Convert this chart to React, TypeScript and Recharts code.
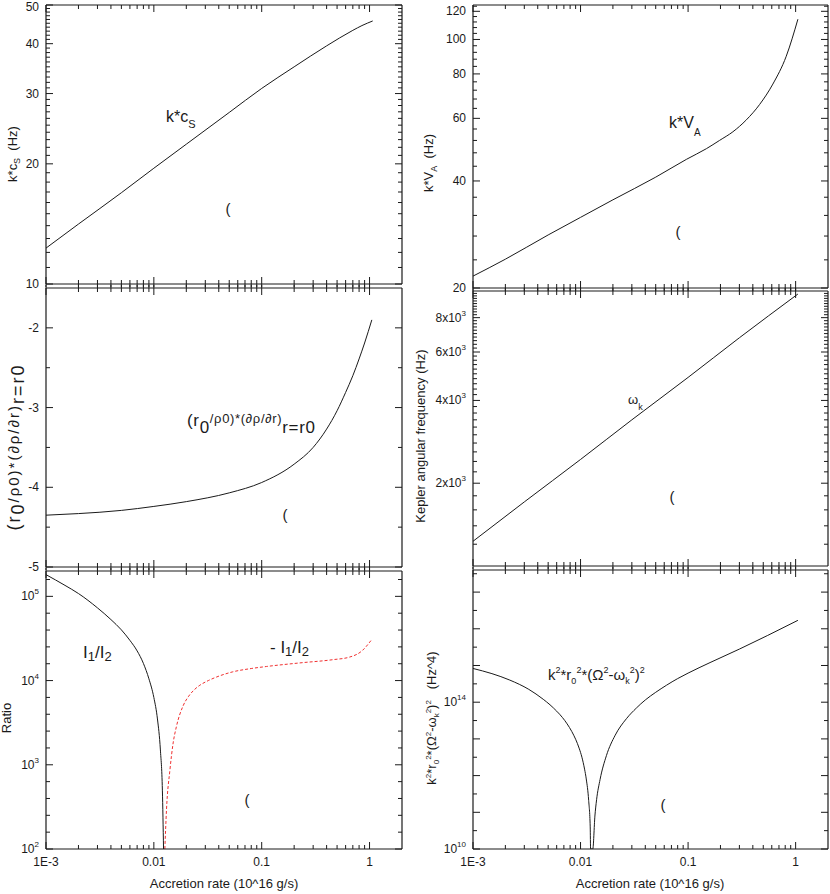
import React from 'react'
import { LineChart, Line, XAxis, YAxis, ReferenceLine } from 'recharts'

const FONT = "'Liberation Sans', Arial, Helvetica, sans-serif"
const INK = '#1a1a1a'

// accretion rate in 10^16 g/s on every x axis
const kcsX = [0.001, 0.002, 0.005, 0.01, 0.02, 0.05, 0.1, 0.2, 0.4, 0.7, 0.85, 1.07]
const kcsY = [12.3, 14.13, 16.93, 19.5, 22.4, 26.9, 30.9, 35.0, 39.5, 43.2, 44.4, 45.6]

const kvaX = [0.001, 0.002, 0.005, 0.01, 0.02, 0.05, 0.0964, 0.148, 0.196, 0.261, 0.348, 0.462, 0.614, 0.818, 1.05]
const kvaY = [21.6, 24.1, 28.2, 31.6, 35.4, 41.0, 46.0, 49.3, 52.0, 55.0, 59.4, 65.6, 74.9, 89.7, 114]

const drhoX = [0.001, 0.002, 0.005, 0.01, 0.02, 0.05, 0.1, 0.2, 0.3, 0.4, 0.5, 0.6, 0.7, 0.8, 0.9, 1.05]
const drhoY = [-4.35, -4.33, -4.29, -4.24, -4.18, -4.07, -3.94, -3.71, -3.5, -3.27, -3.04, -2.81, -2.6, -2.39, -2.19, -1.9]

const omkX = [0.001, 0.003, 0.01, 0.03, 0.1, 0.3, 1.05]
const omkY = [1230, 1710, 2440, 3400, 4850, 6760, 9750]

const i12X = [0.001, 0.0015, 0.002, 0.003, 0.004, 0.005, 0.006, 0.007, 0.008, 0.009, 0.01, 0.0108, 0.0115, 0.012, 0.0123]
const i12Y = [181000, 135000, 108000, 73000, 53000, 40000, 30000, 22500, 16000, 10500, 6300, 3500, 1500, 500, 100]

const mi12X = [0.01265, 0.0131, 0.0141, 0.0151, 0.0162, 0.01866, 0.021, 0.0235, 0.0267, 0.032, 0.038, 0.054, 0.08, 0.111, 0.225, 0.457, 0.653, 0.85, 1.03]
const mi12Y = [100, 293, 870, 1815, 2850, 5000, 6500, 7700, 8800, 10000, 11000, 12700, 13900, 14700, 16200, 17700, 19000, 22500, 29800]

const dispX = [0.001, 0.0015, 0.0022, 0.0033, 0.0045, 0.0052, 0.006, 0.0068, 0.0075, 0.0083, 0.009, 0.0097, 0.0103,
    0.0109, 0.0113, 0.0119, 0.0123, 0.0124,
    0.013, 0.0136, 0.0141, 0.0152, 0.0174, 0.021, 0.0267, 0.033, 0.04, 0.05, 0.063, 0.08, 0.1, 0.16, 0.3, 0.55, 1.05]
const dispY = [8.3e14, 6.0e14, 4.0e14, 2.24e14, 1.2e14, 8.5e13, 5.7e13, 3.8e13, 2.57e13, 1.58e13, 9.8e12, 5.6e12, 3.16e12,
    1.5e12, 8.1e11, 2.1e11, 4e10, 1e10,
    1e10, 7.9e10, 2.2e11, 7.9e11, 3.5e12, 1.26e13, 3.55e13, 6.9e13, 1.15e14, 1.86e14, 2.9e14, 4.4e14, 6.2e14, 1.2e15, 2.8e15, 6.6e15, 1.7e16]

const zip = (xs: number[], ys: number[]) => xs.map((x, i) => ({ x, y: ys[i] }))

// tick labels
type Lab = { v: number; t: string; sup?: string }

const xMajor: Lab[] = [
    { v: 0.001, t: '1E-3' },
    { v: 0.01, t: '0.01' },
    { v: 0.1, t: '0.1' },
    { v: 1, t: '1' },
]
const xMinor = [0.002, 0.003, 0.004, 0.005, 0.006, 0.007, 0.008, 0.009,
    0.02, 0.03, 0.04, 0.05, 0.06, 0.07, 0.08, 0.09,
    0.2, 0.3, 0.4, 0.5, 0.6, 0.7, 0.8, 0.9]

const kcsTicks: Lab[] = [10, 20, 30, 40, 50].map(v => ({ v, t: String(v) }))
const kvaTicks: Lab[] = [20, 40, 60, 80, 100, 120].map(v => ({ v, t: String(v) }))
const drhoTicks: Lab[] = [-5, -4, -3, -2].map(v => ({ v, t: String(v) }))
const omkTicks: Lab[] = [
    { v: 2000, t: '2x10', sup: '3' },
    { v: 4000, t: '4x10', sup: '3' },
    { v: 6000, t: '6x10', sup: '3' },
    { v: 8000, t: '8x10', sup: '3' },
]
const ratioTicks: Lab[] = [
    { v: 100, t: '10', sup: '2' },
    { v: 1000, t: '10', sup: '3' },
    { v: 10000, t: '10', sup: '4' },
    { v: 100000, t: '10', sup: '5' },
]
const dispTicks: Lab[] = [
    { v: 1e10, t: '10', sup: '10' },
    { v: 1e11, t: '' }, { v: 1e12, t: '' }, { v: 1e13, t: '' },
    { v: 1e14, t: '10', sup: '14' },
    { v: 1e15, t: '' }, { v: 1e16, t: '' }, { v: 1e17, t: '' },
]

// minor tick helpers
const steps = (from: number, to: number, step: number, skip: number[]) => {
    const out: number[] = []
    for (let v = from; v <= to + 1e-9; v += step) {
        const r = Math.round(v * 1000) / 1000
        if (!skip.some(s => Math.abs(s - r) < 1e-9)) out.push(r)
    }
    return out
}
const logSteps = (lo: number, hi: number, step: number) => {
    const out: number[] = []
    for (let e = lo; e <= hi + 1e-9; e += step) {
        if (Math.abs(e - Math.round(e)) > 1e-6) out.push(Math.pow(10, e))
    }
    return out
}

const kcsMinor = steps(11, 49, 1, [20, 30, 40])
const kvaMinor = steps(24, 124, 4, [40, 60, 80, 100, 120])
const drhoMinor = [-4.5, -3.5, -2.5]
const omkMinor = steps(1200, 9800, 200, [2000, 4000, 6000, 8000])
const ratioMinor = logSteps(2, 5.3, 0.2)
const dispMinor = logSteps(10, 17.6, 0.5)

// rich text with sub/superscripts
type Seg = { t: string; off?: number; size?: number }
function Rich({ x, y, size, segs, anchor = 'start', rotate = false, len }: {
    x: number, y: number, size: number, segs: Seg[], anchor?: 'start' | 'middle' | 'end', rotate?: boolean, len?: number
}) {
    let cur = 0
    return (
        <text x={x} y={y} fontSize={size} fontFamily={FONT} fill={INK} textAnchor={anchor}
            transform={rotate ? `rotate(-90 ${x} ${y})` : undefined} textLength={len}>
            {segs.map((s, i) => {
                const off = s.off ?? 0
                const dy = off - cur
                cur = off
                return <tspan key={i} dy={dy} fontSize={s.size ?? size}>{s.t}</tspan>
            })}
        </text>
    )
}

const Paren = ({ x, y }: { x: number, y: number }) => (
    <text x={x} y={y + 5} fontSize={15} fontFamily={FONT} fill={INK} textAnchor="middle">(</text>
)

type Series = { data: { x: number, y: number }[], color?: string, dash?: string }

interface PanelProps {
    left: number
    top: number
    width: number
    yAxisW: number
    mr: number
    plotH: number
    first?: boolean
    bottom?: boolean
    yScale: 'log' | 'linear'
    yDomain: [number, number]
    yMajor: Lab[]
    yMinor: number[]
    series: Series[]
    children?: React.ReactNode
}

const findLab = (labs: Lab[], v: number) => labs.find(l => Math.abs(l.v - v) <= Math.abs(v) * 1e-6)

function Panel(d: PanelProps) {
    const mt = 12
    const xAxisH = d.bottom ? 894 - (d.top + mt + d.plotH) : 12
    const height = mt + d.plotH + xAxisH
    const pL = d.yAxisW
    const pR = d.width - d.mr
    const pT = mt
    const pB = mt + d.plotH
    const xs = [...xMajor.map(l => l.v), ...xMinor]
    const ys = [...d.yMajor.map(l => l.v), ...d.yMinor]

    // ticks point inward on all four sides
    const xTick = (props: any) => {
        const x = props.x
        const lab = findLab(xMajor, props.payload.value)
        const len = lab ? 7 : 4
        return (
            <g>
                <line x1={x} x2={x} y1={pB + (d.bottom ? 0 : 3)} y2={pB - len} stroke={INK} />
                <line x1={x} x2={x} y1={pT - (d.first ? 0 : 3)} y2={pT + len} stroke={INK} />
                {d.bottom && lab ? (
                    <text x={x} y={pB + 17} textAnchor="middle" fontSize={12} fontFamily={FONT} fill={INK}>{lab.t}</text>
                ) : null}
            </g>
        )
    }
    const yTick = (props: any) => {
        const y = props.y
        const v = props.payload.value
        const lab = findLab(d.yMajor, v)
        const len = lab ? 7 : 4
        // the very top label of the page sits a touch lower so it is not cut
        const atPageTop = d.first && Math.abs(v - d.yDomain[1]) <= Math.abs(v) * 1e-6
        return (
            <g>
                <line x1={pL} x2={pL + len} y1={y} y2={y} stroke={INK} />
                <line x1={pR} x2={pR - len} y1={y} y2={y} stroke={INK} />
                {lab && lab.t ? (
                    <text x={pL - 7} y={y} dy={atPageTop ? 5.5 : 4} textAnchor="end" fontSize={12} fontFamily={FONT} fill={INK}>
                        {lab.t}
                        {lab.sup ? <tspan dy={-6} fontSize={8}>{lab.sup}</tspan> : null}
                    </text>
                ) : null}
            </g>
        )
    }

    return (
        <div style={{ position: 'absolute', left: d.left, top: d.top }}>
            <LineChart width={d.width} height={height} margin={{ top: mt, right: d.mr, bottom: 0, left: 0 }}>
                <XAxis
                    type="number"
                    dataKey="x"
                    scale="log"
                    domain={[0.001, 2]}
                    allowDataOverflow
                    ticks={xs}
                    interval={0}
                    tickLine={false}
                    tickSize={0}
                    height={xAxisH}
                    axisLine={{ stroke: INK, strokeWidth: 1.2 }}
                    tick={xTick}
                />
                <YAxis
                    type="number"
                    scale={d.yScale}
                    domain={d.yDomain}
                    allowDataOverflow
                    ticks={ys}
                    interval={0}
                    tickLine={false}
                    tickSize={0}
                    width={d.yAxisW}
                    axisLine={{ stroke: INK, strokeWidth: 1.2 }}
                    tick={yTick}
                />
                <ReferenceLine x={2} stroke={INK} strokeWidth={1.2} />
                <ReferenceLine y={d.yDomain[1]} stroke={INK} strokeWidth={1.2} />
                {d.series.map((s, i) => (
                    <Line
                        key={i}
                        data={s.data}
                        dataKey="y"
                        type="monotone"
                        stroke={s.color ?? INK}
                        strokeWidth={1}
                        strokeDasharray={s.dash}
                        dot={false}
                        activeDot={false}
                        isAnimationActive={false}
                    />
                ))}
                <g transform={`translate(${-d.left},${-d.top})`}>{d.children}</g>
            </LineChart>
        </div>
    )
}

const xTitle = (cx: number) => (
    <text x={cx} y={888} textAnchor="middle" fontSize={13} fontFamily={FONT} fill={INK}>Accretion rate (10^16 g/s)</text>
)

export default function App() {
    return (
        <div style={{ position: 'absolute', left: 0, top: 0, width: 830, height: 894, background: '#fff' }}>
            {/* left column */}
            <Panel left={0} top={-7} width={410} yAxisW={46} mr={8} plotH={279} first
                yScale="log" yDomain={[10, 50]} yMajor={kcsTicks} yMinor={kcsMinor}
                series={[{ data: zip(kcsX, kcsY) }]}>
                <Rich x={17} y={154} size={13} rotate anchor="middle"
                    segs={[{ t: 'k*c' }, { t: 'S', off: 3, size: 9 }, { t: '\u00a0\u00a0(Hz)', off: 0 }]} />
                <Rich x={166} y={122} size={16} segs={[{ t: 'k*c' }, { t: 'S', off: 6, size: 11 }]} />
                <Paren x={228} y={209} />
            </Panel>

            <Panel left={0} top={276} width={410} yAxisW={46} mr={8} plotH={279}
                yScale="linear" yDomain={[-5, -1.5]} yMajor={drhoTicks} yMinor={drhoMinor}
                series={[{ data: zip(drhoX, drhoY) }]}>
                <Rich x={20} y={448} size={18} rotate anchor="middle" len={165}
                    segs={[{ t: '(r' }, { t: '0', off: 4 }, { t: '/\u03c10)*(\u2202\u03c1/\u2202r)', off: -1, size: 15 }, { t: 'r=r0', off: 4 }]} />
                <Rich x={187} y={426} size={17} len={128}
                    segs={[{ t: '(r' }, { t: '0', off: 7 }, { t: '/\u03c10)*(\u2202\u03c1/\u2202r)', off: -3, size: 13 }, { t: 'r=r0', off: 7 }]} />
                <Paren x={285} y={515} />
            </Panel>

            <Panel left={0} top={559} width={410} yAxisW={46} mr={8} plotH={278} bottom
                yScale="log" yDomain={[100, 200000]} yMajor={ratioTicks} yMinor={ratioMinor}
                series={[{ data: zip(i12X, i12Y) }, { data: zip(mi12X, mi12Y), color: '#f03030', dash: '3 2' }]}>
                <Rich x={11} y={718} size={13} rotate anchor="middle" segs={[{ t: 'Ratio' }]} />
                <Rich x={83} y={658} size={17}
                    segs={[{ t: 'I' }, { t: '1', off: 3, size: 13 }, { t: '/I', off: 0 }, { t: '2', off: 3, size: 13 }]} />
                <Rich x={270} y={653} size={17}
                    segs={[{ t: '- I' }, { t: '1', off: 3, size: 13 }, { t: '/I', off: 0 }, { t: '2', off: 3, size: 13 }]} />
                <Paren x={247} y={800} />
                {xTitle(224)}
            </Panel>

            {/* right column */}
            <Panel left={410} top={-7} width={420} yAxisW={63} mr={2} plotH={283} first
                yScale="log" yDomain={[20, 125]} yMajor={kvaTicks} yMinor={kvaMinor}
                series={[{ data: zip(kvaX, kvaY) }]}>
                <Rich x={433} y={163} size={13} rotate anchor="middle"
                    segs={[{ t: 'k*V' }, { t: 'A', off: 4, size: 9 }, { t: '\u00a0\u00a0(Hz)', off: 0 }]} />
                <Rich x={669} y={128} size={16} segs={[{ t: 'k*V' }, { t: 'A', off: 8, size: 10 }]} />
                <Paren x={678} y={232} />
            </Panel>

            <Panel left={410} top={279} width={420} yAxisW={63} mr={2} plotH={275}
                yScale="log" yDomain={[1000, 10000]} yMajor={omkTicks} yMinor={omkMinor}
                series={[{ data: zip(omkX, omkY) }]}>
                <Rich x={425} y={436} size={13} rotate anchor="middle" segs={[{ t: 'Kepler angular frequency (Hz)' }]} />
                <Rich x={628} y={404} size={13} segs={[{ t: '\u03c9' }, { t: 'k', off: 6, size: 9 }]} />
                <Paren x={672} y={497} />
            </Panel>

            <Panel left={410} top={558} width={420} yAxisW={63} mr={2} plotH={279} bottom
                yScale="log" yDomain={[1e10, 4e17]} yMajor={dispTicks} yMinor={dispMinor}
                series={[{ data: zip(dispX, dispY) }]}>
                <Rich x={436} y={718} size={13} rotate anchor="middle"
                    segs={[
                        { t: 'k' }, { t: '2', off: -5, size: 8 }, { t: '*r', off: 0 }, { t: '0', off: 3, size: 8 },
                        { t: '2', off: -5, size: 8 }, { t: '*(\u03a9', off: 0 }, { t: '2', off: -5, size: 8 },
                        { t: '-\u03c9', off: 0 }, { t: 'k', off: 3, size: 8 }, { t: '2', off: -5, size: 8 },
                        { t: ')', off: 0 }, { t: '2', off: -5, size: 8 }, { t: '\u00a0\u00a0\u00a0(Hz^4)', off: 0 },
                    ]} />
                <Rich x={548} y={680} size={15}
                    segs={[
                        { t: 'k' }, { t: '2', off: -7, size: 9 }, { t: '*r', off: 0 }, { t: '0', off: 4, size: 9 },
                        { t: '2', off: -7, size: 9 }, { t: '*(\u03a9', off: 0 }, { t: '2', off: -7, size: 9 },
                        { t: '-\u03c9', off: 0 }, { t: 'k', off: 4, size: 9 }, { t: '2', off: -7, size: 9 },
                        { t: ')', off: 0 }, { t: '2', off: -7, size: 9 },
                    ]} />
                <Paren x={663} y={805} />
                {xTitle(650)}
            </Panel>
        </div>
    )
}
